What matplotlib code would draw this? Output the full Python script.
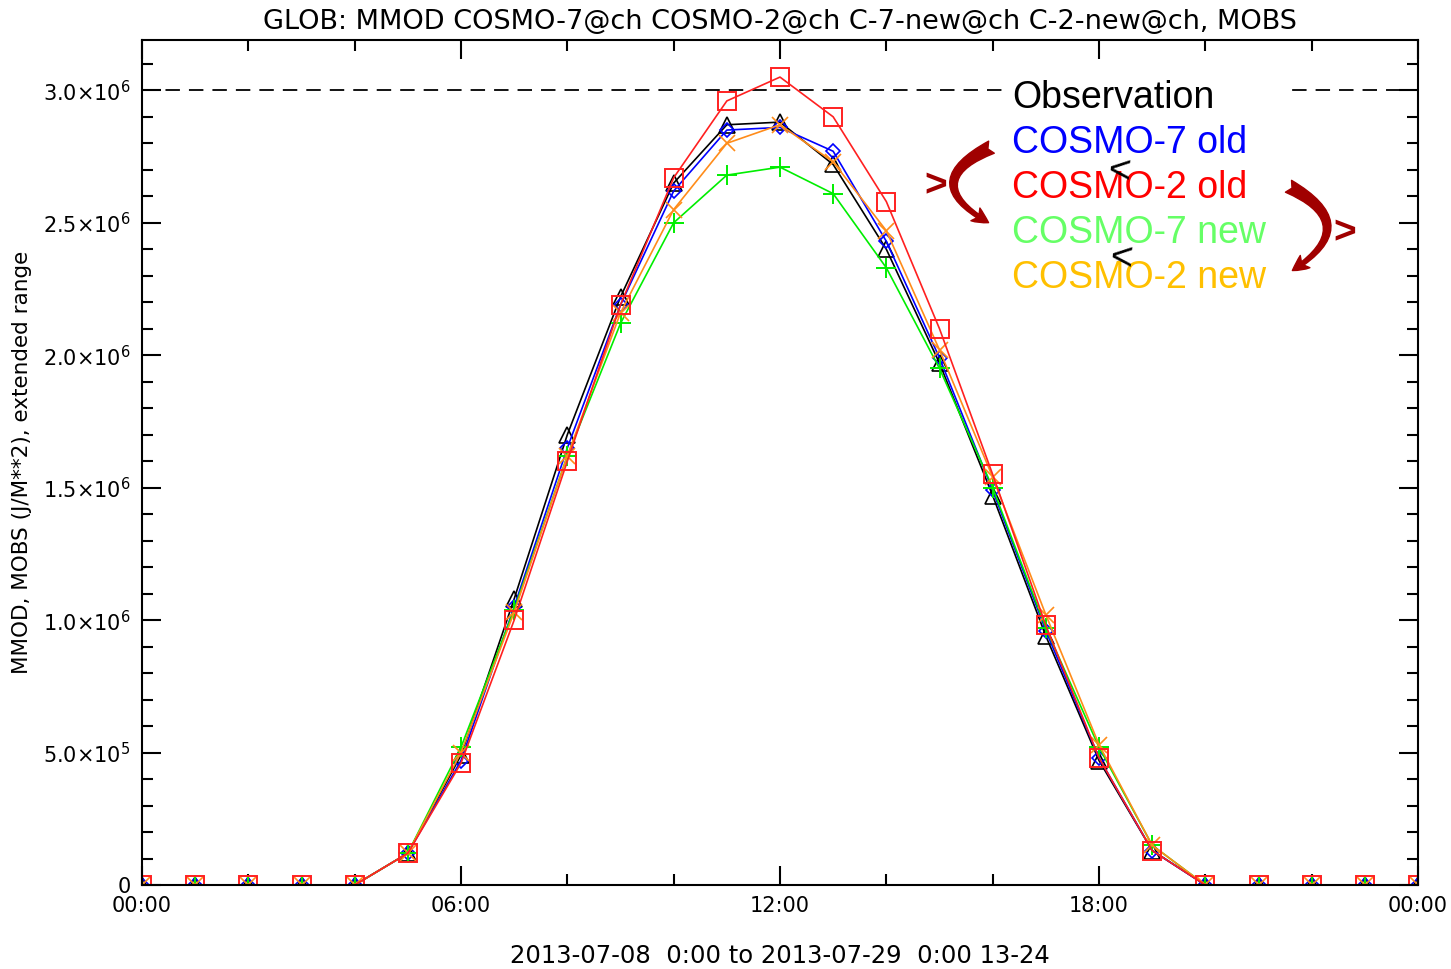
import numpy as np
import matplotlib.pyplot as plt
from matplotlib.patches import FancyArrowPatch, Rectangle
from matplotlib.ticker import MultipleLocator, FixedLocator

# hourly values, 00:00 .. 24:00
hours = np.arange(25)
obs = [0, 0, 0, 0, 0, 0.12, 0.49, 1.08, 1.70, 2.22, 2.65, 2.87, 2.88, 2.72, 2.40, 1.97,
       1.47, 0.94, 0.47, 0.13, 0, 0, 0, 0, 0]
c7_old = [0, 0, 0, 0, 0, 0.12, 0.47, 1.05, 1.65, 2.19, 2.62, 2.85, 2.86, 2.77, 2.43, 1.99,
          1.49, 0.96, 0.48, 0.13, 0, 0, 0, 0, 0]
c2_old = [0, 0, 0, 0, 0, 0.12, 0.46, 1.00, 1.60, 2.19, 2.67, 2.96, 3.05, 2.90, 2.58, 2.10,
          1.55, 0.98, 0.48, 0.13, 0, 0, 0, 0, 0]
c7_new = [0, 0, 0, 0, 0, 0.12, 0.52, 1.04, 1.62, 2.12, 2.50, 2.68, 2.71, 2.61, 2.33, 1.95,
          1.50, 0.97, 0.52, 0.15, 0, 0, 0, 0, 0]
c2_new = [0, 0, 0, 0, 0, 0.12, 0.50, 1.03, 1.62, 2.16, 2.55, 2.80, 2.87, 2.73, 2.47, 2.02,
          1.54, 1.02, 0.53, 0.15, 0, 0, 0, 0, 0]

xticks = [0, 6, 12, 18, 24]
xticklabels = ["00:00", "06:00", "12:00", "18:00", "00:00"]
yticks = [0, 0.5e6, 1.0e6, 1.5e6, 2.0e6, 2.5e6, 3.0e6]
yticklabels = ["0", r"5.0$\times$10$^5$", r"1.0$\times$10$^6$", r"1.5$\times$10$^6$",
               r"2.0$\times$10$^6$", r"2.5$\times$10$^6$", r"3.0$\times$10$^6$"]
legend_names = ["Observation", "COSMO-7 old", "COSMO-2 old", "COSMO-7 new", "COSMO-2 new"]
legend_colors = ["black", "#0000ff", "#ff0000", "#66ff66", "#ffc000"]

fig = plt.figure(figsize=(14.51, 9.69), dpi=100)
ax = fig.add_axes([142/1451, 1 - 885/969, 1276/1451, 845/969])

sc = 1e6
ax.plot(hours, np.array(obs)*sc, color="black", lw=1.2, marker="^", ms=12, mfc="none", mew=1.2)
ax.plot(hours, np.array(c7_old)*sc, color="#0000ff", lw=1.2, marker="D", ms=7, mfc="none", mew=1.2)
ax.plot(hours, np.array(c7_new)*sc, color="#00ee00", lw=1.2, marker="+", ms=14, mew=1.4)
ax.plot(hours, np.array(c2_new)*sc, color="#ff8c1a", lw=1.2, marker="x", ms=11, mew=1.2)
ax.plot(hours, np.array(c2_old)*sc, color="#ff2020", lw=1.2, marker="s", ms=13, mfc="none", mew=1.4)

ax.axhline(3.0e6, color="black", lw=1.3, dashes=(8, 5), zorder=1)

ax.set_xlim(0, 24)
ax.set_ylim(0, 3.19e6)
ax.xaxis.set_major_locator(FixedLocator(xticks))
ax.set_xticklabels(xticklabels)
ax.xaxis.set_minor_locator(MultipleLocator(2))
ax.yaxis.set_major_locator(FixedLocator(yticks))
ax.set_yticklabels(yticklabels)
ax.yaxis.set_minor_locator(MultipleLocator(1e5))
ax.tick_params(which="both", direction="in", top=True, right=True, width=1.5,
               labelsize=15, colors="black")
ax.tick_params(which="major", length=14, pad=8)
ax.tick_params(which="minor", length=8)
for s in ax.spines.values():
    s.set_linewidth(1.5)

ax.set_title("GLOB: MMOD COSMO-7@ch COSMO-2@ch C-7-new@ch C-2-new@ch, MOBS",
             fontsize=19.5, pad=8)
ax.set_xlabel("2013-07-08  0:00 to 2013-07-29  0:00 13-24", fontsize=17.5, labelpad=20)
ax.set_ylabel("MMOD, MOBS (J/M**2), extended range", fontsize=15.5, labelpad=8)

# white box behind the legend text
fig.add_artist(Rectangle((1003/1451, 1 - 300/969), 285/1451, 225/969,
                         facecolor="white", edgecolor="none", zorder=3))

for i, (name, col) in enumerate(zip(legend_names, legend_colors)):
    fig.text(1012/1451, 1 - (98 + 45*i)/969, name, color=col, fontsize=27,
             family="Liberation Sans", va="center", ha="left", zorder=5)

dark = "#a00000"
for (x0, y0), (x1, y1), rad in [((994, 146), (991, 224), 1.0), ((1286, 185), (1290, 272), -0.9)]:
    arr = FancyArrowPatch((x0/1451, 1 - y0/969), (x1/1451, 1 - y1/969),
                          transform=fig.transFigure,
                          connectionstyle=f"arc3,rad={rad}",
                          arrowstyle="fancy,head_length=0.7,head_width=0.7,tail_width=0.6",
                          mutation_scale=16, color=dark, zorder=6)
    fig.add_artist(arr)

fig.text(936/1451, 1 - 186/969, ">", color=dark, fontsize=28, fontweight="bold",
         family="Liberation Sans", ha="center", va="center", zorder=6)
fig.text(1345/1451, 1 - 233/969, ">", color=dark, fontsize=28, fontweight="bold",
         family="Liberation Sans", ha="center", va="center", zorder=6)
fig.text(1119/1451, 1 - 172/969, "<", color="black", fontsize=28, rotation=-5,
         family="Liberation Sans", ha="center", va="center", zorder=7)
fig.text(1121/1451, 1 - 259/969, "<", color="black", fontsize=28, rotation=-5,
         family="Liberation Sans", ha="center", va="center", zorder=7)

fig.savefig("out.png", dpi=100)
